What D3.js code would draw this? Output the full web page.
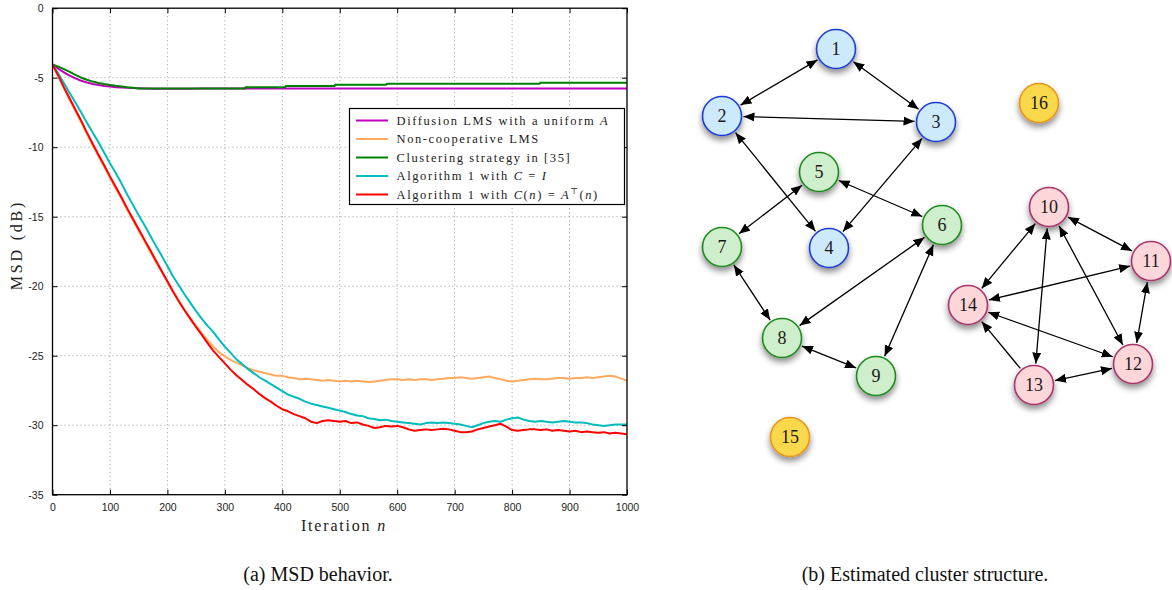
<!DOCTYPE html>
<html>
<head>
<meta charset="utf-8">
<script src="https://cdn.jsdelivr.net/npm/d3@7/dist/d3.min.js"></script>
<style>
  html, body { margin: 0; padding: 0; background: #fff; }
  svg { display: block; }
</style>
</head>
<body>
<svg id="fig" width="1172" height="590"></svg>
<script>
// ---------- MSD curves (dB vs. iteration) ----------
const xTicks = [0, 100, 200, 300, 400, 500, 600, 700, 800, 900, 1000];
const yTicks = [0, -5, -10, -15, -20, -25, -30, -35];

const iterDiffusion = [0, 10, 20, 30, 40, 50, 60, 70, 80, 90, 100, 110, 120, 130, 140, 150, 160, 180, 200, 240, 260, 1000];
const msdDiffusion = [-4.05, -4.35, -4.62, -4.85, -5.05, -5.22, -5.35, -5.45, -5.53, -5.59, -5.64, -5.68, -5.71, -5.73, -5.75, -5.76, -5.77, -5.79, -5.8, -5.8, -5.77, -5.77];

const iterClustering = [0, 10, 20, 30, 40, 50, 60, 70, 80, 90, 100, 110, 120, 130, 140, 150, 335, 336, 405, 406, 491, 492, 581, 582, 848, 849, 1000];
const msdClustering = [-4.05, -4.2, -4.38, -4.58, -4.8, -5.0, -5.15, -5.28, -5.38, -5.46, -5.52, -5.58, -5.63, -5.68, -5.72, -5.78, -5.78, -5.68, -5.68, -5.6, -5.6, -5.5, -5.5, -5.43, -5.43, -5.36, -5.36];

const iterNoisy = [0,10,20,30,40,50,60,70,80,90,100,110,120,130,140,150,160,170,180,190,200,210,220,230,240,250,260,270,280,290,300,310,320,330,340,350,360,370,380,390,400,410,420,430,440,450,460,470,480,490,500,510,520,530,540,550,560,570,580,590,600,610,620,630,640,650,660,670,680,690,700,710,720,730,740,750,760,770,780,790,800,810,820,830,840,850,860,870,880,890,900,910,920,930,940,950,960,970,980,990,1000];

const msdNonCoop = [-4.05,-4.9,-5.75,-6.6,-7.4,-8.2,-9.05,-9.85,-10.65,-11.4,-12.2,-12.95,-13.7,-14.5,-15.25,-16.0,-16.75,-17.5,-18.25,-18.95,-19.7,-20.4,-21.05,-21.7,-22.3,-22.85,-23.4,-23.9,-24.35,-24.75,-25.05,-25.3,-25.5,-25.7,-25.9,-26.05,-26.15,-26.25,-26.35,-26.45,-26.45,-26.55,-26.6,-26.7,-26.65,-26.7,-26.75,-26.8,-26.75,-26.8,-26.85,-26.8,-26.85,-26.8,-26.85,-26.9,-26.85,-26.8,-26.75,-26.7,-26.7,-26.75,-26.7,-26.75,-26.7,-26.7,-26.75,-26.7,-26.65,-26.6,-26.6,-26.55,-26.6,-26.65,-26.6,-26.55,-26.5,-26.6,-26.7,-26.8,-26.85,-26.8,-26.75,-26.7,-26.65,-26.7,-26.7,-26.65,-26.6,-26.6,-26.65,-26.6,-26.6,-26.55,-26.6,-26.55,-26.5,-26.45,-26.5,-26.65,-26.8];

const msdAlgIdentity = [-4.05,-4.7,-5.4,-6.1,-6.8,-7.5,-8.25,-8.95,-9.65,-10.4,-11.15,-11.85,-12.6,-13.4,-14.15,-14.9,-15.6,-16.35,-17.1,-17.8,-18.55,-19.3,-19.95,-20.6,-21.2,-21.8,-22.35,-22.85,-23.3,-23.85,-24.35,-24.8,-25.25,-25.6,-25.95,-26.25,-26.55,-26.8,-27.05,-27.3,-27.55,-27.8,-27.95,-28.1,-28.3,-28.45,-28.55,-28.65,-28.75,-28.85,-28.95,-29.05,-29.2,-29.3,-29.35,-29.5,-29.55,-29.65,-29.6,-29.7,-29.75,-29.8,-29.85,-29.9,-29.95,-29.85,-29.8,-29.85,-29.8,-29.85,-29.9,-29.95,-30.05,-30.15,-30.0,-29.85,-29.75,-29.7,-29.75,-29.6,-29.5,-29.45,-29.6,-29.7,-29.75,-29.7,-29.75,-29.8,-29.75,-29.7,-29.75,-29.8,-29.8,-29.85,-29.95,-30.0,-30.05,-30.0,-29.95,-29.95,-29.95];

const msdAlgAdaptive = [-4.05,-4.85,-5.7,-6.5,-7.3,-8.1,-8.95,-9.75,-10.55,-11.3,-12.1,-12.85,-13.6,-14.4,-15.15,-15.9,-16.65,-17.4,-18.15,-18.9,-19.65,-20.4,-21.1,-21.75,-22.35,-22.95,-23.5,-24.1,-24.65,-25.1,-25.55,-26.0,-26.4,-26.75,-27.1,-27.4,-27.75,-28.05,-28.3,-28.6,-28.85,-29.0,-29.2,-29.35,-29.5,-29.75,-29.85,-29.7,-29.65,-29.7,-29.75,-29.7,-29.85,-29.8,-29.95,-30.05,-30.2,-30.15,-30.05,-30.1,-30.05,-30.15,-30.3,-30.4,-30.35,-30.3,-30.35,-30.3,-30.25,-30.3,-30.4,-30.5,-30.5,-30.45,-30.3,-30.2,-30.1,-30.0,-29.9,-30.1,-30.35,-30.4,-30.35,-30.3,-30.3,-30.35,-30.3,-30.4,-30.35,-30.4,-30.45,-30.4,-30.5,-30.45,-30.5,-30.55,-30.5,-30.6,-30.55,-30.6,-30.65];

const seriesNames = [
  "Diffusion LMS with a uniform A",
  "Non-cooperative LMS",
  "Clustering strategy in [35]",
  "Algorithm 1 with C = I",
  "Algorithm 1 with C(n) = A\u22A4(n)"
];

// ---------- Estimated cluster structure ----------
const nodeIds      = [1, 2, 3, 4, 5, 6, 7, 8, 9, 10, 11, 12, 13, 14, 15, 16];
const nodeCluster  = ["a", "a", "a", "a", "b", "b", "b", "b", "b", "c", "c", "c", "c", "c", "s", "s"];
const nodeLayoutX  = [136, 22, 236, 129, 119, 242, 22, 82, 176, 349, 451, 433, 334, 268, 90, 339];
const nodeLayoutY  = [29, 96, 102, 228, 152, 205, 227, 318, 356, 187, 241, 344, 365, 285, 417, 83];
// [from, to, bidirectional]
const links = [
  [1, 2, true], [1, 3, true], [2, 3, true], [2, 4, true], [3, 4, true],
  [5, 7, true], [5, 6, true], [6, 8, true], [6, 9, true], [7, 8, true], [8, 9, true],
  [10, 11, true], [10, 14, true], [10, 13, true], [10, 12, true],
  [11, 14, true], [11, 12, true], [14, 12, true], [13, 12, true], [13, 14, false]
];

const captions = ["(a) MSD behavior.", "(b) Estimated cluster structure."];

// =====================================================================
const svg = d3.select("#fig");
const serif = "Liberation Serif, Times New Roman, DejaVu Serif, serif";
const sans = "Liberation Sans, Arial, DejaVu Sans, sans-serif";

const plot = { left: 52.5, right: 627, top: 8.2, bottom: 494.7 };
const x = d3.scaleLinear().domain([0, 1000]).range([plot.left, plot.right]);
const y = d3.scaleLinear().domain([-35, 0]).range([plot.bottom, plot.top]);

const defs = svg.append("defs");
defs.append("clipPath").attr("id", "plotClip")
  .append("rect")
  .attr("x", plot.left).attr("y", plot.top)
  .attr("width", plot.right - plot.left).attr("height", plot.bottom - plot.top);

const gPlot = svg.append("g");

// dotted grid
const gGrid = gPlot.append("g")
  .attr("stroke", "#9a9a9a").attr("stroke-width", 1)
  .attr("stroke-dasharray", "1,3").attr("fill", "none");
xTicks.slice(1, -1).forEach(t => {
  gGrid.append("line").attr("x1", x(t)).attr("x2", x(t))
    .attr("y1", plot.top).attr("y2", plot.bottom);
});
yTicks.slice(1, -1).forEach(t => {
  gGrid.append("line").attr("y1", y(t)).attr("y2", y(t))
    .attr("x1", plot.left).attr("x2", plot.right);
});

// curves
const colors = ["#bf00bf", "#ffaa60", "#008000", "#00bcbc", "#ff0000"];
function drawSeries(iters, vals, color) {
  const line = d3.line().x((d, i) => x(iters[i])).y(d => y(d));
  gPlot.append("path")
    .datum(vals)
    .attr("clip-path", "url(#plotClip)")
    .attr("fill", "none")
    .attr("stroke", color)
    .attr("stroke-width", 2)
    .attr("stroke-linejoin", "round")
    .attr("d", line);
}
drawSeries(iterNoisy, msdNonCoop, colors[1]);
drawSeries(iterDiffusion, msdDiffusion, colors[0]);
drawSeries(iterClustering, msdClustering, colors[2]);
drawSeries(iterNoisy, msdAlgIdentity, colors[3]);
drawSeries(iterNoisy, msdAlgAdaptive, colors[4]);

// axes (box with inward ticks on all sides)
const axB = d3.axisBottom(x).tickValues(xTicks).tickSizeInner(-5).tickSizeOuter(0).tickPadding(9).tickFormat(d3.format("d"));
const axT = d3.axisTop(x).tickValues(xTicks).tickSizeInner(-5).tickSizeOuter(0).tickFormat("");
const axL = d3.axisLeft(y).tickValues(yTicks).tickSizeInner(-5).tickSizeOuter(0).tickPadding(9).tickFormat(d => d === 0 ? "0" : "-" + Math.abs(d));
const axR = d3.axisRight(y).tickValues(yTicks).tickSizeInner(-5).tickSizeOuter(0).tickFormat("");

function styleAxis(g) {
  g.attr("font-family", sans).attr("font-size", 10.5);
  g.select(".domain").remove();
  g.selectAll(".tick line").attr("stroke", "#000").attr("stroke-width", 1);
  g.selectAll(".tick text").attr("fill", "#222");
}
gPlot.append("g").attr("transform", `translate(0,${plot.bottom})`).call(axB).call(styleAxis);
gPlot.append("g").attr("transform", `translate(0,${plot.top})`).call(axT).call(styleAxis);
gPlot.append("g").attr("transform", `translate(${plot.left},0)`).call(axL).call(styleAxis);
gPlot.append("g").attr("transform", `translate(${plot.right},0)`).call(axR).call(styleAxis);

gPlot.append("rect")
  .attr("x", plot.left).attr("y", plot.top)
  .attr("width", plot.right - plot.left).attr("height", plot.bottom - plot.top)
  .attr("fill", "none").attr("stroke", "#000").attr("stroke-width", 1.3);

// axis titles
const xTitle = gPlot.append("text")
  .attr("x", 344).attr("y", 531)
  .attr("text-anchor", "middle")
  .attr("font-family", serif).attr("font-size", 16).attr("letter-spacing", 1.8)
  .attr("fill", "#222");
xTitle.append("tspan").text("Iteration ");
xTitle.append("tspan").attr("font-style", "italic").text("n");

gPlot.append("text")
  .attr("transform", `translate(22,245) rotate(-90)`)
  .attr("text-anchor", "middle")
  .attr("font-family", serif).attr("font-size", 16).attr("letter-spacing", 2.8)
  .attr("fill", "#222")
  .text("MSD (dB)");

// legend
const legend = gPlot.append("g").attr("transform", "translate(349.5,108.5)");
const legW = 275, legH = 96, rowH = 18.5, row0 = 12;
legend.append("rect").attr("width", legW).attr("height", legH)
  .attr("fill", "#fff").attr("stroke", "#000").attr("stroke-width", 1.2);

const legendRich = [
  [{ t: "Diffusion LMS with a uniform " }, { t: "A", i: true }],
  [{ t: "Non-cooperative LMS" }],
  [{ t: "Clustering strategy in [35]" }],
  [{ t: "Algorithm 1 with " }, { t: "C", i: true }, { t: " = " }, { t: "I", i: true }],
  [{ t: "Algorithm 1 with " }, { t: "C", i: true }, { t: "(" }, { t: "n", i: true }, { t: ") = " }, { t: "A", i: true }, { t: "\u22A4", sup: true }, { t: "(", down: true }, { t: "n", i: true }, { t: ")" }]
];
seriesNames.forEach((name, k) => {
  const cy = row0 + k * rowH;
  legend.append("line").attr("x1", 6.5).attr("x2", 38.5).attr("y1", cy).attr("y2", cy)
    .attr("stroke", colors[k]).attr("stroke-width", 2);
  const txt = legend.append("text")
    .attr("x", 47).attr("y", cy + 4)
    .attr("font-family", serif).attr("font-size", 12.5).attr("letter-spacing", 1.6)
    .attr("fill", "#222")
    .attr("aria-label", name);
  legendRich[k].forEach(p => {
    const ts = txt.append("tspan").text(p.t);
    if (p.i) ts.attr("font-style", "italic");
    if (p.sup) ts.attr("dy", -5).attr("font-size", 8);
    if (p.down) ts.attr("dy", 5);
  });
});

// ---------- network panel ----------
const net = { x0: 700, y0: 20 };
const nx = d3.scaleLinear().domain([0, 100]).range([net.x0, net.x0 + 100]);
const ny = d3.scaleLinear().domain([0, 100]).range([net.y0, net.y0 + 100]);
const R = 19.5;

const palette = {
  a: { fill: "#cde9fc", stroke: "#1f3ed2" },
  b: { fill: "#cfeecb", stroke: "#1f8a1f" },
  c: { fill: "#fdd6d9", stroke: "#a6346c" },
  s: { fill: "#f9d94c", stroke: "#e8941a" }
};

const shadow = defs.append("filter").attr("id", "nodeShadow")
  .attr("x", "-50%").attr("y", "-50%").attr("width", "200%").attr("height", "200%");
shadow.append("feDropShadow").attr("dx", 0).attr("dy", 4).attr("stdDeviation", 3)
  .attr("flood-color", "#000").attr("flood-opacity", 0.45);

defs.append("marker").attr("id", "arrowHead")
  .attr("viewBox", "0 -5 11 10").attr("refX", 11).attr("refY", 0)
  .attr("markerUnits", "userSpaceOnUse").attr("markerWidth", 11).attr("markerHeight", 10)
  .attr("orient", "auto-start-reverse")
  .append("path").attr("d", "M0,-4.5L11,0L0,4.5Z").attr("fill", "#000");

const nodes = nodeIds.map((id, i) => ({
  id, cluster: nodeCluster[i], cx: nx(nodeLayoutX[i]), cy: ny(nodeLayoutY[i])
}));
const byId = new Map(nodes.map(n => [n.id, n]));

const gLinks = svg.append("g");
links.forEach(([a, b, both]) => {
  const s = byId.get(a), t = byId.get(b);
  const dx = t.cx - s.cx, dy = t.cy - s.cy, len = Math.hypot(dx, dy);
  const ux = dx / len, uy = dy / len, gap = R + 2;
  const ln = gLinks.append("line")
    .attr("x1", s.cx + ux * gap).attr("y1", s.cy + uy * gap)
    .attr("x2", t.cx - ux * gap).attr("y2", t.cy - uy * gap)
    .attr("stroke", "#000").attr("stroke-width", 1.3)
    .attr("marker-end", "url(#arrowHead)");
  if (both) ln.attr("marker-start", "url(#arrowHead)");
});

const gNodes = svg.append("g");
const nodeG = gNodes.selectAll("g").data(nodes).join("g")
  .attr("transform", d => `translate(${d.cx},${d.cy})`);
nodeG.append("circle").attr("r", R)
  .attr("fill", d => palette[d.cluster].fill)
  .attr("stroke", d => palette[d.cluster].stroke)
  .attr("stroke-width", 1.6)
  .attr("filter", "url(#nodeShadow)");
nodeG.append("text")
  .attr("text-anchor", "middle").attr("dy", "0.35em")
  .attr("font-family", serif).attr("font-size", 18)
  .attr("fill", "#1a1a1a")
  .text(d => d.id);

// ---------- captions ----------
[[318, captions[0]], [925, captions[1]]].forEach(([cx, t]) => {
  svg.append("text").attr("x", cx).attr("y", 581)
    .attr("text-anchor", "middle")
    .attr("font-family", serif).attr("font-size", 20)
    .attr("fill", "#111")
    .text(t);
});
</script>
</body>
</html>
